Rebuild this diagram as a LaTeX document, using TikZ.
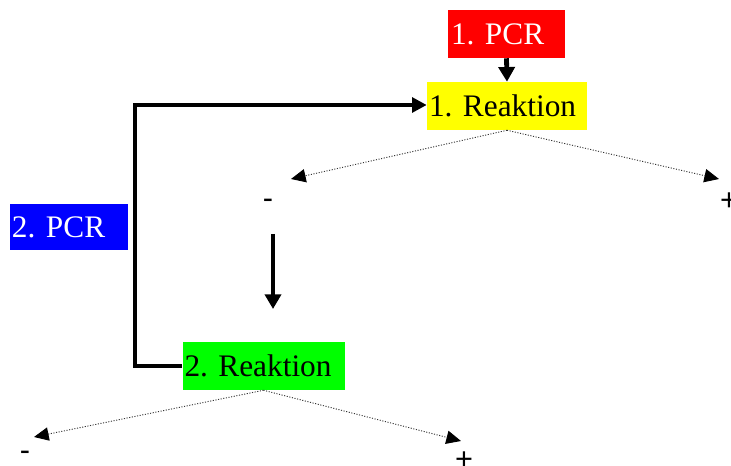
\documentclass[tikz,border=0pt]{standalone}
\usepackage{fontspec}
\setmainfont{Liberation Serif}
\newfontfamily\boxfont{Liberation Serif}
\newfontfamily\signfont{Liberation Sans}
\usetikzlibrary{arrows.meta}
\definecolor{pcrred}{RGB}{255,0,0}
\definecolor{reakyellow}{RGB}{255,255,0}
\definecolor{reakgreen}{RGB}{0,255,0}
\definecolor{pcrblue}{RGB}{0,0,255}
\frenchspacing
\tikzset{
  box/.style={rectangle, inner xsep=1.5pt, inner ysep=0pt, align=left,
    font=\boxfont\fontsize{23.5}{26}\selectfont, anchor=center},
  sign/.style={inner sep=0pt, anchor=base, font=\signfont\fontsize{23}{26}\selectfont},
  thickarrow/.style={line width=3.6pt, -{Triangle[length=11pt,width=12pt]}},
  splitarrow/.style={line width=0.7pt, dash pattern=on 0.8pt off 1.2pt, black!80,
    -{Triangle[length=11pt,width=10pt,color=black]}}
}
\begin{document}
\begin{tikzpicture}[x=0.75pt,y=-0.75pt]
\useasboundingbox (0,0) rectangle (731,466);
\clip (0,0) rectangle (731,466);

% boxes
\node[box, fill=pcrred, text=white, minimum width=117*0.75pt, minimum height=36pt, text width=111*0.75pt] (pcr1) at (506.5,34) {1. PCR};
\node[box, fill=reakyellow, minimum width=120pt, minimum height=36pt, text width=156*0.75pt] (reak1) at (507,106) {1. Reaktion};
\node[box, fill=pcrblue, text=white, minimum width=87pt, minimum height=34.5pt, text width=114*0.75pt] (pcr2) at (69,227) {2. PCR};
\node[box, fill=reakgreen, minimum width=161*0.75pt, minimum height=36pt, text width=158*0.75pt] (reak2) at (263.5,366) {2. Reaktion};

% signs
\node[sign] (m1) at (268,209) {-};
\node[sign] (p1) at (729,211) {+};
\node[sign] (m2) at (25,460) {-};
\node[sign] (p2) at (464,469) {+};

% arrow ends
\coordinate (e1l) at (291,179);
\coordinate (e1r) at (719,179);
\coordinate (e2l) at (34,437);
\coordinate (e2r) at (461,441);
\coordinate (ds) at (273,234);
\coordinate (de) at (273,309);
\coordinate (lx) at (135,105);

% connectors
\draw[thickarrow] (pcr1.south) -- (reak1.north);
\draw[line width=3.7pt, -{Triangle[length=11pt,width=11pt]}, line join=miter]
  (reak2.west) -- (lx |- reak2.west) -- (lx) -- (reak1.west |- lx);
\draw[thickarrow] (ds) -- (de);

\draw[splitarrow] (reak1.south) -- (e1l);
\draw[splitarrow] (reak1.south) -- (e1r);
\draw[splitarrow] (reak2.south) -- (e2l);
\draw[splitarrow] (reak2.south) -- (e2r);
\end{tikzpicture}
\end{document}
